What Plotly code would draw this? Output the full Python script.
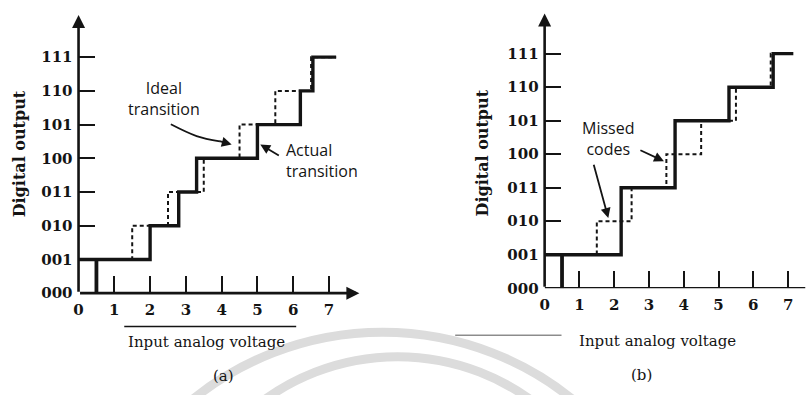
import plotly.graph_objects as go

# ---------------- data ----------------
codes = ["000", "001", "010", "011", "100", "101", "110", "111"]
code_vals = [0, 1, 2, 3, 4, 5, 6, 7]
volt_ticks = [0, 1, 2, 3, 4, 5, 6, 7]

ideal_x = [0.5, 1.5, 2.5, 3.5, 4.5, 5.5, 6.5]
ideal_code = [1, 2, 3, 4, 5, 6, 7]

actual_a_x = [0.5, 2.0, 2.8, 3.3, 5.0, 6.2, 6.55]
actual_a_code = [1, 2, 3, 4, 5, 6, 7]
end_a = 7.2

actual_b_x = [0.5, 2.2, 3.75, 5.3, 6.57]
actual_b_code = [1, 3, 5, 6, 7]
end_b = 7.15

INK = "#141414"
SERIF = "DejaVu Serif"
SANS = "Open Sans"


def step_path(tx, tc, x0, x_end):
    xs, ys = [x0], [tc[0]]
    for x, c in zip(tx[1:], tc[1:]):
        xs += [x, x]
        ys += [ys[-1], c]
    xs.append(x_end)
    ys.append(ys[-1])
    return xs, ys


fig = go.Figure()


def add_panel(xa, ya, act_x, act_c, x_end):
    ix, iy = step_path(ideal_x, ideal_code, ideal_x[0], x_end)
    fig.add_trace(go.Scatter(x=ix, y=iy, mode="lines", xaxis=xa, yaxis=ya,
                             line=dict(color=INK, width=2, dash="4px,3px"),
                             hoverinfo="skip", showlegend=False))
    ax_, ay_ = step_path(act_x, act_c, 0, x_end)
    fig.add_trace(go.Scatter(x=ax_, y=ay_, mode="lines", xaxis=xa, yaxis=ya,
                             line=dict(color=INK, width=3.4),
                             hoverinfo="skip", showlegend=False))
    fig.add_trace(go.Scatter(x=[act_x[0], act_x[0]], y=[0, act_c[0]], mode="lines",
                             xaxis=xa, yaxis=ya,
                             line=dict(color=INK, width=3.8),
                             hoverinfo="skip", showlegend=False))


add_panel("x", "y", actual_a_x, actual_a_code, end_a)
add_panel("x2", "y2", actual_b_x, actual_b_code, end_b)

# curved leader for "Ideal transition"
fig.add_trace(go.Scatter(x=[2.58, 3.3, 3.95], y=[5.01, 4.66, 4.5], mode="lines",
                         line=dict(color=INK, width=1.8, shape="spline"),
                         hoverinfo="skip", showlegend=False))

common_x = dict(range=[0, 8], showgrid=False, zeroline=False, showline=False,
                tickmode="array", tickvals=volt_ticks, ticktext=[str(v) for v in volt_ticks],
                ticks="inside", ticklen=17, tickwidth=2.2, tickcolor=INK,
                ticklabelstandoff=6,
                tickfont=dict(family=SERIF, size=15, color=INK, weight="bold"),
                fixedrange=True)
common_y = dict(range=[0, 8.4], showgrid=False, zeroline=False, showline=False,
                tickmode="array", tickvals=code_vals, ticktext=codes,
                ticks="inside", ticklen=16, tickwidth=2.2, tickcolor=INK,
                ticklabelstandoff=5,
                tickfont=dict(family=SERIF, size=15, color=INK, weight="bold"),
                fixedrange=True)

fig.update_layout(
    width=807, height=395,
    margin=dict(l=0, r=0, t=0, b=0),
    paper_bgcolor="white", plot_bgcolor="rgba(0,0,0,0)",
    showlegend=False,
    xaxis=dict(common_x, domain=[74 / 807, 362 / 807], anchor="y"),
    yaxis=dict(common_y, domain=[95 / 395, 384.8 / 395], anchor="x"),
    xaxis2=dict(common_x, range=[0, 7.5], domain=[543 / 807, 805.5 / 807], anchor="y2"),
    yaxis2=dict(common_y, domain=[100 / 395, 388.1 / 395], anchor="x2"),
)

# watermark arcs (scan background)
for cx, cy, r in [(380, 640, 300), (395, 590, 225)]:
    fig.add_shape(type="circle", xref="paper", yref="paper", layer="below",
                  x0=(cx - r) / 807, x1=(cx + r) / 807,
                  y0=(395 - (cy + r)) / 395, y1=(395 - (cy - r)) / 395,
                  line=dict(color="#dcdcdc", width=9))

ann = []


def arrow(xr, yr, x, y, axv, ayv, head=2, w=2.6, size=1.0):
    ann.append(dict(xref=xr, yref=yr, axref=xr, ayref=yr, x=x, y=y, ax=axv, ay=ayv,
                    text="", showarrow=True, arrowhead=head, arrowsize=size,
                    arrowwidth=w, arrowcolor=INK, standoff=0, startstandoff=0))


arrow("x", "y", 0, 8.25, 0, 0)
arrow("x", "y", 7.85, 0, 0, 0)
arrow("x2", "y2", 0, 8.2, 0, 0)
fig.add_shape(type="line", xref="x2", yref="y2", x0=0, y0=0, x1=7.5, y1=0,
              line=dict(color=INK, width=2.6))

arrow("x", "y", 4.28, 4.41, 3.9, 4.52, head=2, w=1.8, size=1.1)
arrow("x", "y", 5.08, 4.41, 5.64, 4.06, head=2, w=1.8, size=1.1)
arrow("x2", "y2", 1.83, 2.1, 1.4, 3.73, head=2, w=1.8, size=1.1)
arrow("x2", "y2", 3.43, 3.79, 2.71, 4.14, head=2, w=1.8, size=1.1)


def label(xr, yr, x, y, text, font, **kw):
    d = dict(xref=xr, yref=yr, x=x, y=y, text=text, showarrow=False, font=font,
             xanchor="center", yanchor="middle")
    d.update(kw)
    ann.append(d)


labfont = dict(family=SANS, size=16, color=INK)
label("x", "y", 2.39, 5.77, "Ideal<br>transition", labfont, align="center")
label("x", "y", 5.75, 3.94, "Actual<br>transition", labfont, align="left", xanchor="left")
label("x2", "y2", 1.83, 4.46, "Missed<br>codes", labfont, align="center")

serif16b = dict(family=SERIF, size=16, color=INK, weight="bold")
serif15 = dict(family=SERIF, size=15, color=INK)
label("paper", "paper", 15 / 807, (395 - 157) / 395, "Digital output", serif16b, textangle=-90)
label("paper", "paper", 480 / 807, (395 - 157) / 395, "Digital output", serif16b, textangle=-90)
label("paper", "paper", 122 / 807, (395 - 350) / 395, "Input analog voltage", serif15, xanchor="left")
label("paper", "paper", 657 / 807, (395 - 349) / 395, "Input analog voltage", serif15)
label("paper", "paper", 220 / 807, (395 - 385) / 395, "(a)", serif15)
label("paper", "paper", 640 / 807, (395 - 384) / 395, "(b)", serif15)
fig.update_layout(annotations=ann)

# scan rule lines
fig.add_shape(type="line", xref="paper", yref="paper", x0=120 / 807, x1=293 / 807,
              y0=(395 - 334) / 395, y1=(395 - 334) / 395, line=dict(color=INK, width=1.5))
fig.add_shape(type="line", xref="paper", yref="paper", x0=453 / 807, x1=560 / 807,
              y0=(395 - 343) / 395, y1=(395 - 343) / 395, line=dict(color="#555", width=1))

fig.write_html("out.html")
